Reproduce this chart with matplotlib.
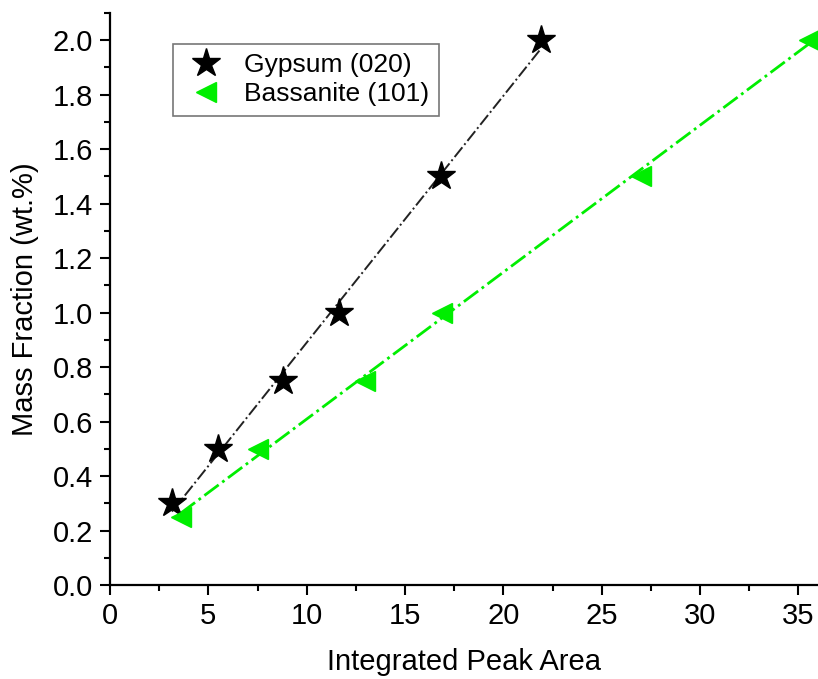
import numpy as np
import matplotlib
matplotlib.use('Agg')
import matplotlib.pyplot as plt
from matplotlib.ticker import MultipleLocator

plt.rcParams['font.family'] = ['Liberation Sans', 'DejaVu Sans']

# Gypsum (020)
gyp_x = [3.15, 5.5, 8.8, 11.65, 16.85, 21.9]
gyp_y = [0.3, 0.5, 0.75, 1.0, 1.5, 2.0]
# Bassanite (101)
bas_x = [3.6, 7.5, 12.95, 16.9, 27.0, 35.55]
bas_y = [0.25, 0.5, 0.75, 1.0, 1.5, 2.0]

fig = plt.figure(figsize=(8.18, 6.79), dpi=100)
ax = fig.add_axes([0.1345, 0.1384, 0.8655, 0.8426])

green = '#00ee00'

# linear fits drawn across the data range
def fit_line(x, y):
    p = np.polyfit(x, y, 1)
    xs = np.array([min(x), max(x)])
    return xs, np.polyval(p, xs)

fx, fy = fit_line(gyp_x, gyp_y)
ax.plot(fx, fy, color='#222222', ls='-.', lw=1.4)
fx, fy = fit_line(bas_x, bas_y)
ax.plot(fx, fy, color=green, ls='-.', lw=2.0)

ax.plot(gyp_x, gyp_y, ls='none', marker='*', ms=21,
        mfc='black', mec='black', label='Gypsum (020)')
ax.plot(bas_x, bas_y, ls='none', marker='<', ms=15,
        mfc=green, mec=green, label='Bassanite (101)')

ax.set_xlim(0, 36)
ax.set_ylim(0, 2.1)
ax.xaxis.set_major_locator(MultipleLocator(5))
ax.xaxis.set_minor_locator(MultipleLocator(2.5))
ax.yaxis.set_major_locator(MultipleLocator(0.2))
ax.yaxis.set_minor_locator(MultipleLocator(0.1))
ax.yaxis.set_major_formatter(plt.FormatStrFormatter('%.1f'))

for s in ['top', 'right']:
    ax.spines[s].set_visible(False)
for s in ['left', 'bottom']:
    ax.spines[s].set_linewidth(1.6)
ax.tick_params(which='major', direction='out', length=7, width=1.5, labelsize=21, pad=5)
ax.tick_params(which='minor', direction='out', length=4, width=1.5)

ax.set_xlabel('Integrated Peak Area', fontsize=21, labelpad=13)
ax.set_ylabel('Mass Fraction (wt.%)', fontsize=21, labelpad=10)

leg = ax.legend(loc='upper left', bbox_to_anchor=(0.089, 0.946), fontsize=19,
                frameon=True, fancybox=False, edgecolor='#555555',
                handlelength=1.8, handletextpad=0.55, borderpad=0.35,
                labelspacing=0.2, borderaxespad=0)
leg.get_frame().set_linewidth(1.2)

fig.savefig('out.png', dpi=100)
